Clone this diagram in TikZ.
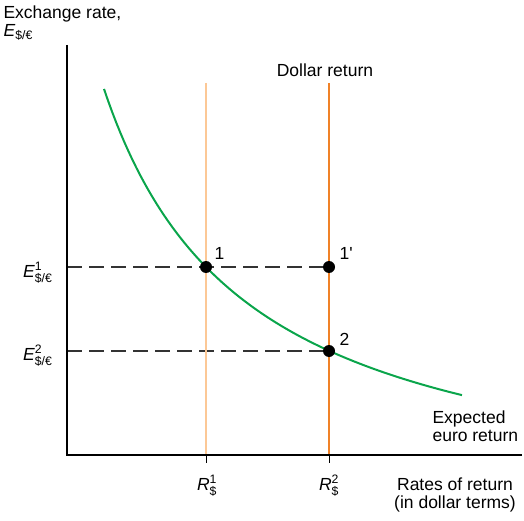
\documentclass[tikz,border=0pt]{standalone}
\usepackage{amsmath}
\usepackage{fontspec}
\setmainfont{Liberation Sans}
\usepackage{xcolor}
\usetikzlibrary{positioning}

\definecolor{retlight}{RGB}{252,200,150}
\definecolor{retdark}{RGB}{240,130,40}
\definecolor{eurogreen}{RGB}{10,165,75}

\newcommand{\Erate}[1]{\textit{E}$^{\text{#1}}_{\text{\$/€}}$}
\newcommand{\Rdol}[1]{\textit{R}$^{\text{#1}}_{\text{\$}}$}

\tikzset{
  axis/.style={line width=2.4pt},
  dashline/.style={gray!40!black,line width=1.2pt,dash pattern=on 15pt off 7pt},
  dot/.style={circle,fill=black,inner sep=0pt,minimum size=12pt},
  ptlab/.style={inner sep=0pt}
}

\begin{document}
\begin{tikzpicture}[x=1pt,y=1pt,font=\fontsize{17.5}{18}\selectfont]
  \useasboundingbox (0,0) rectangle (524,520);

  \coordinate (O) at (67,65);
  \coordinate (ytop) at (67,475);
  \coordinate (xend) at (522,65);
  \coordinate (e1) at (67,253);
  \coordinate (e2) at (67,169);
  \coordinate (r1) at (206,65);
  \coordinate (r2) at (329,65);
  \coordinate (r1top) at (206,437);
  \coordinate (r2top) at (329,437);

  % dashed levels
  \draw[dashline] (e1) -- (r2 |- e1);
  \draw[dashline] (e2) -- (r2 |- e2);

  % dollar returns
  \draw[retlight,line width=2pt] (r1top) -- (r1);
  \draw[retdark,line width=2pt] (r2top) -- (r2);

  % expected euro return
  \draw[eurogreen,line width=2pt] plot[domain=104:462,samples=90]
    (\x,{1.7+618.26/((\x+40)/100)});

  \draw[axis] (ytop) -- (O) -- (xend);
  \draw[line width=1pt] (r1) -- ++(0,-8);
  \draw[line width=1pt] (r2) -- ++(0,-8);

  \node[dot] (p1) at (r1 |- e1) {};
  \node[dot] (p1b) at (r2 |- e1) {};
  \node[dot] (p2) at (r2 |- e2) {};
  \node[ptlab,above right=3pt and 4pt of p1] {1};
  \node[ptlab,above right=3pt and 6pt of p1b] {1\textquotesingle};
  \node[ptlab,above right=1pt and 6pt of p2] {2};

  \node[anchor=north west,align=left] (ylab) at (0,518) {Exchange rate,\\\textit{E}$_{\text{\$/€}}$};
  \node[anchor=base east] (e1lab) at (56,243) {\Erate{1}};
  \node[anchor=base east] (e2lab) at (56,160) {\Erate{2}};
  \node[anchor=base] (r1lab) at (207,30) {\Rdol{1}};
  \node[anchor=base] (r2lab) at (329,30) {\Rdol{2}};
  \node[anchor=base] (dollab) at (325,443) {Dollar return};
  \node[anchor=north west,align=left] (eurolab) at (429,113) {Expected\\euro return};
  \node[anchor=north,align=center] (xlab) at (455,46) {Rates of return\\(in dollar terms)};
\end{tikzpicture}
\end{document}
